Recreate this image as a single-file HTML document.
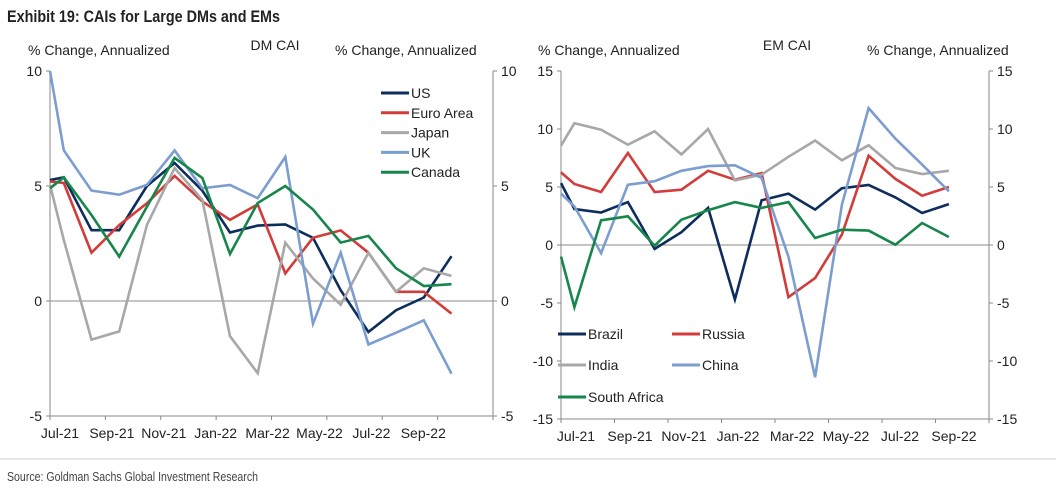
<!DOCTYPE html>
<html><head><meta charset="utf-8">
<style>
body{margin:0;background:#fff;width:1056px;height:492px;overflow:hidden;font-family:"Liberation Sans",sans-serif}
svg text{font-family:"Liberation Sans",sans-serif}
</style></head>
<body>
<svg id="c" width="1056" height="492" xmlns="http://www.w3.org/2000/svg">
<text x="7" y="22" font-size="17" font-weight="bold" fill="#222" textLength="273" lengthAdjust="spacingAndGlyphs">Exhibit 19: CAIs for Large DMs and EMs</text>
<line x1="0" y1="459" x2="1056" y2="459" stroke="#ccc"/>
<text x="7" y="481" font-size="13" fill="#444" textLength="251" lengthAdjust="spacingAndGlyphs">Source: Goldman Sachs Global Investment Research</text>
</svg>
<script>
const months=[-0.5,0,1,2,3,4,5,6,7,8,9,10,11,12,13,14];
const xTickLabels=["Jul-21","Sep-21","Nov-21","Jan-22","Mar-22","May-22","Jul-22","Sep-22"];
const dmTicks=[10,5,0,-5];
const emTicks=[15,10,5,0,-5,-10,-15];
const dmNames=["US","Euro Area","Japan","UK","Canada"];
const us=[5.26,5.38,3.08,3.08,5.0,6.0,4.8,2.98,3.28,3.33,2.75,0.47,-1.35,-0.4,0.15,1.95];
const euro=[5.2,5.13,2.1,3.3,4.25,5.44,4.33,3.53,4.2,1.2,2.75,3.07,2.1,0.4,0.4,-0.55];
const japan=[5.05,2.65,-1.68,-1.32,3.3,5.78,4.4,-1.53,-3.14,2.54,0.98,-0.16,2.1,0.4,1.42,1.09];
const uk=[10.0,6.55,4.8,4.62,5.05,6.55,4.9,5.05,4.47,6.26,-0.99,2.1,-1.89,-1.38,-0.84,-3.16];
const canada=[4.9,5.38,3.74,1.93,4.1,6.22,5.35,2.05,4.26,5.0,3.98,2.54,2.83,1.42,0.65,0.73];
const emNames=["Brazil","Russia","India","China","South Africa"];
const brazil=[5.34,3.1,2.8,3.7,-0.34,1.1,3.2,-4.7,3.85,4.43,3.05,4.9,5.17,4.1,2.76,3.53];
const russia=[6.26,5.26,4.57,7.93,4.57,4.77,6.4,5.63,6.2,-4.5,-2.85,0.9,7.7,5.7,4.25,5.0];
const india=[8.56,10.5,9.94,8.65,9.8,7.8,10.0,5.57,6.06,7.6,9.0,7.3,8.6,6.64,6.12,6.4];
const china=[4.43,3.33,-0.7,5.2,5.5,6.4,6.8,6.87,5.78,-1.0,-11.4,3.48,11.8,9.17,6.93,4.63];
const safrica=[-1.0,-5.35,2.13,2.47,-0.06,2.18,3.0,3.7,3.2,3.7,0.6,1.32,1.24,0.03,1.9,0.69];

const NS="http://www.w3.org/2000/svg";
const svg=document.getElementById('c');
const colors=["#0d2d5c","#d23c3a","#a8a8a8","#7c9dd0","#16864b"];
function mk(tag,attrs,parent){const e=document.createElementNS(NS,tag);for(const k in attrs)e.setAttribute(k,attrs[k]);(parent||svg).appendChild(e);return e;}
function txt(x,y,s,size,anchor,parent){const t=mk('text',{x:x,y:y,'font-size':size,'text-anchor':anchor||'start',fill:'#222'},parent);t.textContent=s;return t;}

function panel(cfg){
  const g=mk('g',{});
  
  
  const L=cfg.L,R=cfg.R,T=cfg.T,B=cfg.B;
  const mw=(R-L)/16;
  const X=m=>L+(m+0.5)*mw;
  const Y=v=>T+(cfg.max-v)/(cfg.max-cfg.min)*(B-T);
  let a=mk('line',{x1:L,y1:T,x2:L,y2:B,stroke:'#888'},g);
  
  a=mk('line',{x1:R,y1:T,x2:R,y2:B,stroke:'#888'},g);
  
  a=mk('line',{x1:L,y1:B,x2:R,y2:B,stroke:'#888'},g);
  
  a=mk('line',{x1:L,y1:Y(0),x2:R,y2:Y(0),stroke:'#888'},g);
  
  cfg.ticks.forEach(v=>{
    mk('line',{x1:L-4,y1:Y(v),x2:L,y2:Y(v),stroke:'#888'},g);
    mk('line',{x1:R,y1:Y(v),x2:R+4,y2:Y(v),stroke:'#888'},g);
    let t=txt(L-8,Y(v)+5,String(v),14,'end',g);
    
    t=txt(R+8,Y(v)+5,String(v),14,'start',g);
    
  });
  for(let k=0;k<=8;k++){const x=X(-0.5+2*k);mk('line',{x1:x,y1:B,x2:x,y2:B+4,stroke:'#888'},g);}
  xTickLabels.forEach((s,k)=>{
    const t=txt(cfg.lab0+k*cfg.labStep,B+22,s,14,'middle',g);
    
  });
  let t=txt(cfg.ytl,T-16,"% Change, Annualized",14,'start',g);
  
  t=txt(cfg.ytr,T-16,"% Change, Annualized",14,'start',g);
  
  t=txt(cfg.titleX,T-21,cfg.title,14,'middle',g);
  
  cfg.series.forEach((s,i)=>{
    const p=mk('polyline',{points:s.map((v,j)=>X(months[j]).toFixed(1)+','+Y(v).toFixed(1)).join(' '),fill:'none',stroke:colors[i],'stroke-width':2.6,'stroke-linejoin':'miter'},g);
    
    
  });
  cfg.names.forEach((n,i)=>{
    const [lx,ly]=cfg.leg(i);
    const e=mk('g',{},g);
    
    
    mk('line',{x1:lx,y1:ly,x2:lx+28,y2:ly,stroke:colors[i],'stroke-width':3},e);
    txt(lx+30,ly+5,n,14,'start',e);
  });
}
panel({name:'dm-cai-panel',L:50,R:493,T:71,B:416,max:10,min:-5,ticks:dmTicks,series:[us,euro,japan,uk,canada],names:dmNames,
  lab0:60,labStep:51.9,ytl:28,ytr:335,title:'DM CAI',titleX:275,leg:i=>[381,93+i*19.8]});
panel({name:'em-cai-panel',L:561,R:989,T:71,B:419,max:15,min:-15,ticks:emTicks,series:[brazil,russia,india,china,safrica],names:emNames,
  lab0:576,labStep:54,ytl:538,ytr:867,title:'EM CAI',titleX:787,leg:i=>[[558,334],[672,334],[558,365],[672,365],[558,397]][i]});
</script>
</body></html>
